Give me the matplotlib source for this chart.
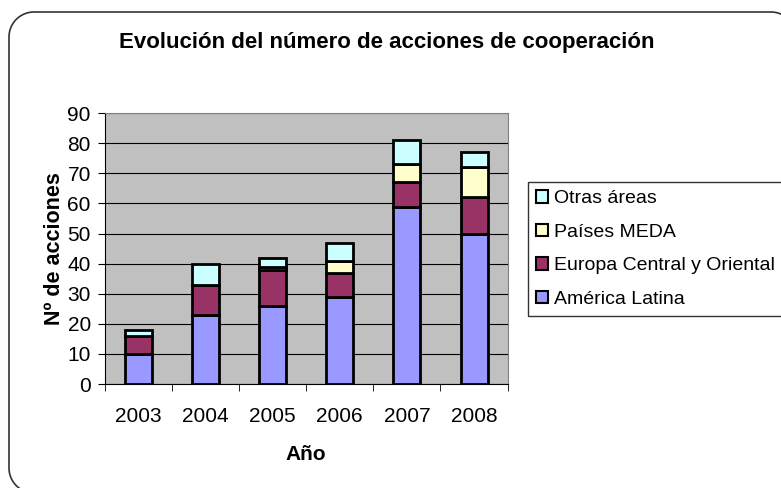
import matplotlib
matplotlib.use("Agg")
import matplotlib.pyplot as plt
import numpy as np
from matplotlib.lines import Line2D
from matplotlib.transforms import IdentityTransform

plt.rcParams['font.family'] = ['Liberation Sans', 'DejaVu Sans']

years = ['2003', '2004', '2005', '2006', '2007', '2008']
america_latina = [10, 23, 26, 29, 59, 50]
europa_central = [6, 10, 12, 8, 8, 12]
paises_meda = [0, 0, 1, 4, 6, 10]
otras_areas = [2, 7, 3, 6, 8, 5]

series = [
    ('América Latina', america_latina, '#9999ff'),
    ('Europa Central y Oriental', europa_central, '#993366'),
    ('Países MEDA', paises_meda, '#ffffcc'),
    ('Otras áreas', otras_areas, '#ccffff'),
]

fig = plt.figure(figsize=(7.81, 4.88), dpi=100)

# rounded chart-area border (open path: right and bottom edges lie off-canvas)
L, B, Rr, T, rad = 9, -5, 796, 476, 25
def arc(cx, cy, a0, a1):
    t = np.radians(np.linspace(a0, a1, 30))
    return cx + rad * np.cos(t), cy + rad * np.sin(t)
parts = [arc(L + rad, B + rad, 270, 180), arc(L + rad, T - rad, 180, 90),
         arc(Rr - rad, T - rad, 90, 0)]
bx = np.concatenate([p[0] for p in parts])
by = np.concatenate([p[1] for p in parts])
fig.add_artist(Line2D(bx, by, transform=IdentityTransform(), color='#333333',
                      linewidth=1.2, zorder=5))

ax = fig.add_axes([0.134, 0.213, 0.516, 0.555])
ax.set_facecolor('#c0c0c0')
x = np.arange(len(years))
bottom = np.zeros(len(years))
handles = []
for name, vals, col in series:
    b = ax.bar(x, vals, 0.4, bottom=bottom, color=col, edgecolor='black',
               linewidth=2.0, label=name, zorder=3)
    handles.append(b)
    bottom += np.array(vals)

ax.set_xlim(-0.5, len(years) - 0.5)
ax.set_ylim(0, 90)
ax.set_yticks(range(0, 91, 10))
ax.yaxis.grid(True, color='black', linewidth=0.8, zorder=1)
ax.set_xticks(x)
ax.set_xticklabels(years, fontsize=15)
ax.tick_params(axis='x', length=0, pad=16.5)
ax.set_xticks(np.arange(-0.5, len(years), 1), minor=True)
ax.tick_params(axis='x', which='minor', length=5, direction='out')
ax.tick_params(axis='y', labelsize=15, length=5, direction='out', pad=5)
for s in ['top', 'right']:
    ax.spines[s].set_color('#808080')
ax.spines['left'].set_color('black')
ax.spines['bottom'].set_color('black')

ax.set_xlabel('Año', fontsize=15, fontweight='bold', labelpad=14)
ax.set_ylabel('Nº de acciones', fontsize=15.5, fontweight='bold', labelpad=2)
fig.text(0.495, 0.912, 'Evolución del número de acciones de cooperación',
         ha='center', va='center', fontsize=16, fontweight='bold')

leg = fig.legend(handles[::-1], [s[0] for s in series][::-1],
                 loc='upper left', bbox_to_anchor=(0.676, 0.627),
                 fontsize=14, frameon=True, fancybox=False, edgecolor='black',
                 handlelength=0.6, handleheight=0.6, handletextpad=0.3,
                 labelspacing=0.85, borderpad=0.42, borderaxespad=0)
leg.get_frame().set_linewidth(1.0)
for h in leg.legend_handles:
    h.set_linewidth(1.5)

fig.savefig('out.png', dpi=100)
